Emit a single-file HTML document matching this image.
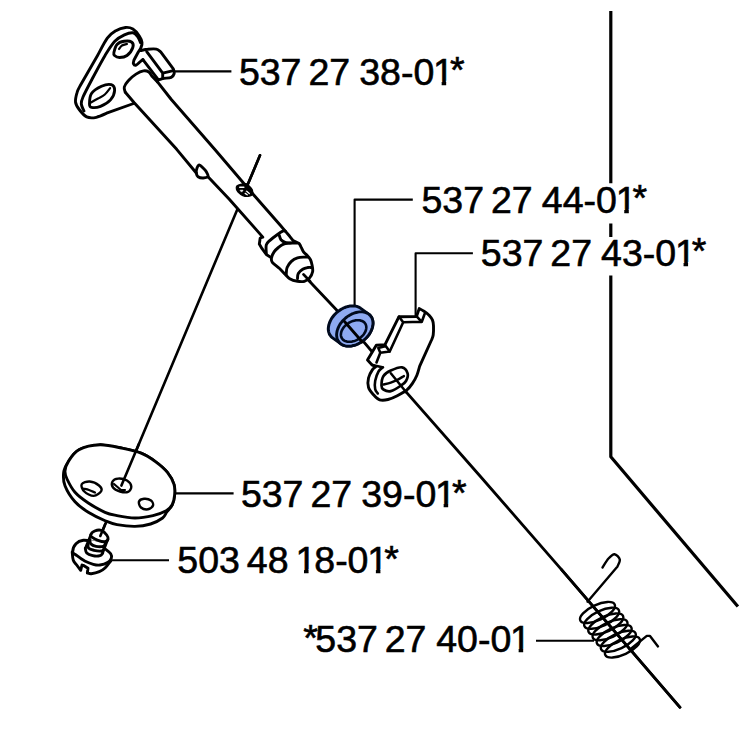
<!DOCTYPE html>
<html><head><meta charset="utf-8">
<style>
html,body{margin:0;padding:0;background:#fff;width:750px;height:750px;overflow:hidden}
.t{position:absolute;font-family:"Liberation Sans",sans-serif;font-size:37.5px;line-height:1;white-space:nowrap;word-spacing:-3.5px;color:#000;-webkit-text-stroke:0.6px #000}
svg{position:absolute;left:0;top:0}
.s{position:relative;top:-1.5px}
.o{display:inline-block;clip-path:polygon(0 0,100% 0,100% 27.3px,13.1px 27.3px,13.1px 100%,8.6px 100%,8.6px 27.3px,0 27.3px);margin-left:-1.2px;margin-right:-4px}
</style></head><body>
<svg width="750" height="750" viewBox="0 0 750 750" fill="none" stroke="#000" stroke-width="2.9" stroke-linecap="round" stroke-linejoin="round">
<path d="M610.8,11 L610.8,183.3 M610.8,223.4 L610.8,237 M610.8,275.6 L610.8,456.8 L737.9,606.5" stroke-width="3.2" stroke-linecap="butt"/>
<g stroke-width="2.1" stroke-linecap="butt">
<path d="M174,71.4 L231.4,71.4" />
<path d="M354.6,305 L354.6,199.6 L412.8,199.6" />
<path d="M415.6,316 L415.6,253.2 L472.9,253.2" />
<path d="M176,493.4 L233.6,493.4" />
<path d="M111.5,560.3 L169,560.3" />
<path d="M536,640.8 L594,640.8" />
</g>
<path d="M304,275.5 L338.5,312 L406.7,392.7 L480,476 L561.3,569.3 L680,707.3" stroke-width="2.8"/>
<path d="M260,155.3 L245.4,190 M237.5,209 L100.5,535.5" stroke-width="2.6"/>
<path d="M133.6,103.5 L108,112.7 C106,113.5 99.8,116.6 96.3,117.3 C92.8,118 89.5,118.2 86.7,116.9 C83.9,115.6 81.1,112 79.2,109.5 C77.3,107 75.8,104.8 75.5,102 C75.2,99.2 76.3,95.1 77.1,92.4 C77.8,89.7 79.5,87.1 80,86 L97.7,55.2 C99.3,52.4 104.3,42.2 107.3,38.1 C110.3,34 112.9,32.5 115.9,30.7 C118.9,28.9 122.7,27.8 125.5,27.5 C128.3,27.2 130.6,27.7 132.9,29.1 C135.2,30.5 137.8,33.8 139.3,36 C140.8,38.2 141.7,40.4 142,42.4 C142.3,44.4 141.5,46.1 140.9,47.7 C140.3,49.3 138.7,51.3 138.3,52 L134,60 C133.9,60.6 133.1,62.8 133.4,63.7 C133.8,64.6 134.9,65.6 136.1,65.2 C137.3,64.8 139.2,62.5 140.4,61.5 C141.6,60.5 142.6,59.8 143,59.5" fill="#fff"/>
<path d="M84,111 C83.5,109.8 81.5,106.3 81.3,104 C81.1,101.7 81,101.6 83,97 C85,92.4 89.8,83.5 93.5,76.5 C97.2,69.5 101.7,61.1 105.2,55.2 C108.8,49.3 111.6,44.7 114.8,41.3 C118,37.9 121.4,36.3 124.4,34.9 C127.4,33.5 130.7,32.5 132.9,32.8 C135.1,33.1 136.3,34.9 137.6,36.5 C138.9,38.1 140,41.5 140.5,42.5" />
<path d="M113.9,52.5 C114.3,50.7 115.3,46.4 117,44.5 C118.7,42.6 121.6,41.7 124,41.3 C126.4,40.9 130,41 131.5,42 C133,43 133.6,45.2 132.8,47.5 C132.1,49.8 129.2,53.8 127,55.5 C124.8,57.2 121.6,57.5 119.5,57.5 C117.4,57.5 115.4,56.3 114.5,55.5 C113.6,54.7 113.5,54.3 113.9,52.5 Z" />
<path d="M119,49 C119.5,48.4 120.7,46.3 122,45.5 C123.3,44.7 126.2,44.2 127,44" stroke-width="2.2"/>
<path d="M89.5,104 C89.5,101.7 89.5,96.5 91.5,93.5 C93.5,90.5 98.2,87.8 101.5,86.3 C104.8,84.8 109,84 111.2,84.7 C113.4,85.4 114.7,88 114.6,90.5 C114.5,93 112.8,97.3 110.5,99.9 C108.2,102.5 103.7,105.1 100.5,106.3 C97.3,107.5 93.3,107.7 91.5,107.3 C89.7,106.9 89.5,106.3 89.5,104 Z" />
<path d="M90.9,102.5 C92.1,101.8 95.7,99.8 98,98.5 C100.3,97.2 102.8,96.2 104.8,94.5 C106.8,92.8 109.2,89.2 110.1,88.1" stroke-width="2.2"/>
<path d="M140.6,50.6 C141.8,50.4 145.1,49.5 147.7,49.3 C150.3,49 154.2,48.7 156.3,49.1 C158.4,49.5 159.8,51.3 160.5,51.7 L173.3,68.8 C173.5,69.6 174.5,72.1 174.2,73.5 C173.8,74.9 173.1,76.5 171.2,77.3 C169.3,78.1 164.8,78.1 162.7,78.6 C160.6,79 159.1,79.8 158.4,80" fill="#fff"/>
<path d="M146.7,51.7 L162.7,73.1 L172.3,70.9 M162.7,73.1 L162.7,78.3 M142.9,59.7 L158.4,79.8" />
<path d="M125.3,92.3 C125.1,91.4 123.8,89 124.3,87 C124.8,85 126.5,82.7 128.5,80.5 C130.4,78.3 133.5,75.7 136,74.1 C138.5,72.5 141.4,71.2 143.5,70.9 C145.6,70.6 147.4,71.1 148.8,72 C150.2,72.9 151.5,75.6 152,76.3 L157.3,81.6" fill="#fff"/>
<path d="M125.3,92.3 L134,102.5 L176.7,149.3 L196.3,173" />
<path d="M208,176.7 L229.3,199.3 L262.8,237.1 L260.2,238 L259.3,244.1 L261.9,248.4 L266.3,254.5 L271.5,257.9" />
<path d="M196.3,173 C196.1,171.6 196.5,169.3 197,168 C197.5,166.7 198.3,165 199.3,165 C200.3,165 201.9,166.9 203,168 C204.1,169.1 205.2,169.9 206,171.3 C206.8,172.7 208.4,175.2 208,176.3 C207.6,177.4 205,177.9 203.3,178 C201.6,178.1 199.2,177.5 198,176.7 C196.8,175.9 196.5,174.4 196.3,173 Z" />
<path d="M157.3,81.6 L171.3,99.5 L215.3,150 L252,193 L280.1,225 L285.3,231.1 L289.7,236.3 L293.1,240.6 L296.6,242.3" />
<path d="M236.8,186 C237.7,185.1 240.5,184.4 242,184 C243.5,183.6 244.8,183.3 246,183.6 C247.2,183.9 248.1,184.9 249.2,186 C250.3,187.1 251.9,188.5 252.4,190 C252.9,191.5 253.1,193.7 252.4,194.8 C251.7,195.9 249.6,196.3 248,196.4 C246.4,196.5 244.5,196.3 242.8,195.6 C241.1,194.9 239.1,193.1 238,192 C236.9,190.9 236.6,190.2 236.4,189.2 C236.2,188.2 235.9,186.9 236.8,186 Z" fill="#000" stroke-width="1.2"/>
<path d="M239.8,187.3 L243.8,187.3" stroke="#fff" stroke-width="1.6"/>
<path d="M240.5,190.3 L243,190.3 L241.8,191.8 Z" fill="#fff" stroke="#fff" stroke-width="0.8"/>
<path d="M245.8,190.6 L249.3,193.6 M245.2,193.4 L247.2,194.8" stroke="#fff" stroke-width="1.3"/>
<path d="M260,155.3 L245.4,190" stroke-width="2.6"/>
<path d="M266.3,253.6 C266.3,252.2 265.7,247.1 266.3,244.9 C266.9,242.7 267.8,242.3 269.7,240.6 C271.6,238.9 275.3,236.1 277.5,234.5 C279.7,232.9 281.4,231.7 282.7,231.1 C284,230.5 284.9,231.1 285.3,231.1" />
<path d="M279.3,235.4 C279.6,236.1 280,238.5 281,239.7 C282,240.8 283,241.7 285.3,242.3 C287.6,242.9 292.7,243 294.9,243.2 C297.1,243.3 297.7,243.2 298.3,243.2" />
<path d="M298.3,243.2 C300.1,243.8 300,245.2 300.9,246.7 C301.8,248.1 302.5,250.5 303.5,251.9 C304.5,253.3 305.8,254 307,255.3 C308.2,256.6 309.6,258 310.5,259.7 C311.4,261.4 311.8,263.7 312.2,265.7 C312.6,267.7 313,269.8 312.6,271.8 C312.2,273.8 311,276.3 309.6,277.9 C308.2,279.5 306.4,280.7 304.4,281.3 C302.4,281.9 299.9,281.7 297.5,281.3 C295.1,280.9 291.7,279.9 289.7,278.7 C287.7,277.5 287,276.1 285.3,274.4 C283.6,272.7 281.5,270.3 279.3,268.3 C277.1,266.3 273.6,264 272.3,262.3 C271,260.6 271.2,259.6 271.5,257.9 C271.8,256.2 273,253.6 274.1,251.9 C275.2,250.2 276.8,248.8 278.4,247.5 C280,246.2 281.7,244.8 283.6,244.1 C285.5,243.4 287.6,243.5 290,243.3 C292.4,243.2 296.5,242.6 298.3,243.2 Z" fill="#fff"/>
<path d="M286.2,274.4 C286.4,273.2 286.2,269.7 287.1,267.5 C288,265.3 289.7,263 291.4,261.4 C293.1,259.8 295.3,258.6 297.5,257.9 C299.7,257.2 302.7,257.2 304.4,257.1 C306.1,257 307.3,257.1 307.9,257.1" />
<path d="M297.5,278.7 C297.6,277.8 297.4,275.1 298.3,273.5 C299.2,271.9 301.1,270.2 302.7,269.2 C304.3,268.2 306.5,267.8 307.9,267.5 C309.3,267.2 310.7,267.5 311.3,267.5" />
<path d="M303.5,274.4 L310,281.3" stroke-width="2.8"/>
<path d="M328.3,328.9 L328.4,327.5 L328.6,326.1 L328.9,324.6 L329.4,323.1 L330,321.6 L330.7,320.1 L331.5,318.6 L332.5,317.2 L333.6,315.8 L334.7,314.5 L336,313.2 L337.3,312 L338.7,310.9 L340.2,309.9 L341.7,309 L343.2,308.2 L344.8,307.5 L346.4,306.9 L348,306.5 L349.6,306.1 L351.1,305.9 L352.6,305.9 L354.1,305.9 L355.5,306.1 L356.8,306.4 L358.1,306.9 L359.3,307.4 L360.4,308.1 L368.7,314.1 L369.6,314.9 L370.5,315.8 L371.2,316.8 L371.9,317.9 L372.3,319.1 L372.7,320.4 L372.9,321.7 L373,323.1 L372.9,324.5 L372.7,325.9 L372.4,327.4 L371.9,328.9 L371.3,330.4 L370.6,331.9 L369.8,333.4 L368.8,334.8 L367.7,336.2 L366.6,337.5 L365.3,338.8 L364,340 L362.6,341.1 L361.1,342.1 L359.6,343 L358.1,343.8 L356.5,344.5 L354.9,345.1 L353.3,345.5 L351.7,345.9 L350.2,346.1 L348.7,346.1 L347.2,346.1 L345.8,345.9 L344.5,345.6 L343.2,345.1 L342,344.6 L340.9,343.9 L332.6,337.9 L331.7,337.1 L330.8,336.2 L330.1,335.2 L329.4,334.1 L329,332.9 L328.6,331.6 L328.4,330.3 Z" fill="#8EAAF2" stroke="#000a1e" stroke-width="3"/>
<path d="M370.5,315.8 L371.2,316.8 L371.9,317.9 L372.3,319.1 L372.7,320.4 L372.9,321.7 L373,323.1 L372.9,324.5 L372.7,325.9 L372.4,327.4 L371.9,328.9 L371.3,330.4 L370.6,331.9 L369.8,333.4 L368.8,334.8 L367.7,336.2 L366.6,337.5 L365.3,338.8 L364,340 L362.6,341.1 L361.1,342.1 L359.6,343 L358.1,343.8 L356.5,344.5 L354.9,345.1 L353.3,345.5 L351.7,345.9 L350.2,346.1 L348.7,346.1 L347.2,346.1 L345.8,345.9 L344.5,345.6 L343.2,345.1 L342,344.6 L340.9,343.9 L340,343.1 L339.1,342.2 L338.4,341.2 L337.7,340.1 L337.3,338.9 L336.9,337.6 L336.7,336.3 L336.6,334.9 L336.7,333.5 L336.9,332.1 L337.2,330.6 L337.7,329.1 L338.3,327.6 L339,326.1 L339.8,324.6 L340.8,323.2 L341.9,321.8 L343,320.5 L344.3,319.2 L345.6,318 L347,316.9 L348.5,315.9 L350,315 L351.5,314.2 L353.1,313.5 L354.7,312.9 L356.3,312.5 L357.9,312.1 L359.4,311.9 L360.9,311.9 L362.4,311.9 L363.8,312.1 L365.1,312.4 L366.4,312.9 L367.6,313.4 L368.7,314.1 L369.6,314.9 Z" fill="#8EAAF2" stroke="#000a1e" stroke-width="2.9"/>
<path d="M365.3,323.7 L365.7,324.4 L366,325.2 L366.2,326 L366.3,326.9 L366.3,327.7 L366.2,328.7 L366,329.6 L365.8,330.5 L365.4,331.5 L364.9,332.4 L364.4,333.3 L363.8,334.2 L363.1,335.1 L362.3,336 L361.4,336.8 L360.5,337.6 L359.6,338.3 L358.6,339 L357.5,339.6 L356.5,340.1 L355.4,340.6 L354.3,341 L353.2,341.3 L352.1,341.6 L351,341.7 L349.9,341.8 L348.8,341.8 L347.8,341.7 L346.9,341.6 L346,341.3 L345.1,341 L344.3,340.6 L343.6,340.1 L342.9,339.6 L342.4,339 L341.9,338.3 L341.5,337.6 L341.2,336.8 L341,336 L340.9,335.1 L340.9,334.3 L341,333.3 L341.2,332.4 L341.4,331.5 L341.8,330.5 L342.3,329.6 L342.8,328.7 L343.4,327.8 L344.1,326.9 L344.9,326 L345.8,325.2 L346.7,324.4 L347.6,323.7 L348.6,323 L349.7,322.4 L350.7,321.9 L351.8,321.4 L352.9,321 L354,320.7 L355.1,320.4 L356.2,320.3 L357.3,320.2 L358.4,320.2 L359.4,320.3 L360.3,320.4 L361.2,320.7 L362.1,321 L362.9,321.4 L363.6,321.9 L364.3,322.4 L364.8,323 Z" fill="#8EAAF2" stroke="#000a1e" stroke-width="2.6"/>
<path d="M344.5,321.5 L362.3,342" stroke-width="2.8"/>
<path d="M372.1,364.9 L367.5,360 L376.3,345.3 L385,344.7 L399,316.7 L416.5,316.5 L419.2,308.6 C420,309 422.3,310.1 424,311.2 C425.7,312.3 427.9,313.9 429.3,315.4 C430.7,316.9 431.8,318.4 432.5,320.1 C433.2,321.8 433.4,323.2 433.5,325.7 C433.6,328.2 433.5,332.6 433.2,335 C432.9,337.4 431.8,339.2 431.5,340 L419.7,366.1 C419.2,367.6 418.1,372.3 416.9,375.2 C415.7,378.1 414,381.1 412.3,383.6 C410.6,386.1 409.2,388.1 406.7,390.1 C404.2,392.1 400.4,394.1 397.3,395.7 C394.2,397.3 390.9,398.8 388,399.5 C385.1,400.2 382.1,400.6 379.6,399.8 C377.2,399 375.2,396.6 373.3,394.5 C371.4,392.4 369.3,390.1 368.5,387.3 C367.7,384.6 367.8,380.9 368.5,378 C369.2,375.1 371.2,371.5 372.5,369.6 C373.8,367.7 375.4,367 376,366.5 Z" fill="#fff"/>
<path d="M399,316.7 L403.2,322.3 L421.8,321.8 L424.6,314 M417.1,316.8 L421.8,321.8 M403.2,322.3 L389.7,351.5" stroke-width="2.6"/>
<path d="M378.3,348 L385,346.3 M385,344.9 L389.7,351.5 L380.3,352.7 L378.3,348 M380.3,352.7 L376.5,362.5 M372.1,364.9 L382.4,367.3" stroke-width="2.6"/>
<path d="M383,367.3 C382.2,368 379.8,369.2 378.5,371.5 C377.2,373.8 375.8,377.9 375.2,380.8 C374.6,383.8 374.8,387.1 375.2,389.2 C375.6,391.3 377.4,392.8 377.8,393.5" stroke-width="2.6"/>
<path d="M381.5,385.5 C381.5,383.2 381.9,378.5 383.5,376 C385.1,373.5 387.7,371.9 390.8,370.5 C393.9,369.1 399.2,366.8 402,367.3 C404.8,367.8 406.9,371 407.6,373.3 C408.3,375.6 407.1,379 406,381 C404.9,383 403.6,383.8 401.1,385.5 C398.6,387.2 393.8,390.4 390.8,391.1 C387.9,391.8 384.9,390.4 383.4,389.5 C381.8,388.6 381.5,387.8 381.5,385.5 Z" fill="#fff" stroke-width="2.7"/>
<path d="M383.3,384.5 C384.6,384.2 388.5,383.5 390.8,382.7 C393.1,381.9 395.1,381 397.3,379.9 C399.5,378.8 402.8,376.7 403.9,376.1" stroke-width="2.4"/>
<path d="M390.8,373.3 L406.7,392.7" stroke-width="2.5"/>
<path d="M100,444.8 C103.8,445.4 116.2,447 123,448.4 C129.8,449.8 135.6,451 141,453.2 C146.4,455.4 151,458.4 155.4,461.6 C159.8,464.8 164.3,468.6 167.4,472.4 C170.5,476.2 172.8,480.6 174,484.4 C175.2,488.2 174.9,491.8 174.6,495.2 C174.3,498.6 173.5,502 172.2,504.8 C170.9,507.6 168.4,509.8 166.8,512 C165.2,514.2 165.3,516 162.6,518 C159.9,520 155.2,522.6 150.6,524 C146,525.4 140.6,526.3 135,526.4 C129.4,526.5 121.9,525.5 117,524.6 C112.1,523.7 110.5,523 105.7,521 C100.9,519 93.4,515.5 88.3,512.3 C83.2,509.1 78.9,506.1 75,501.7 C71.1,497.3 66.9,490.6 65,485.7 C63.1,480.8 63.2,476.3 63.7,472.3 C64.2,468.3 65.8,465.5 68.3,461.7 C70.8,457.9 73.7,452.5 79,449.7 C84.3,446.9 96.5,445.6 100,444.8 Z" fill="#fff"/>
<path d="M100,444.8 C107.3,444.6 116.2,447 123,448.4 C129.8,449.8 135.6,451 141,453.2 C146.4,455.4 151,458.4 155.4,461.6 C159.8,464.8 164.3,468.6 167.4,472.4 C170.5,476.2 172.8,480.6 174,484.4 C175.2,488.2 174.9,491.8 174.6,495.2 C174.3,498.6 173.6,502.2 172.2,504.8 C170.8,507.4 169.4,509 166.2,510.8 C163,512.6 158.2,514.4 153,515.6 C147.8,516.8 141,518 135,518 C129,518 122,516.6 117,515.6 C112,514.6 109.8,514.4 105,512.3 C100.2,510.2 93.3,506.3 88.3,503 C83.3,499.7 78.5,496.3 75,492.3 C71.5,488.3 68.7,482.6 67,479 C65.3,475.4 64.8,473.9 65,471 C65.2,468.1 66,465.2 68.3,461.7 C70.6,458.1 73.7,452.5 79,449.7 C84.3,446.9 92.7,445 100,444.8 Z" fill="#fff"/>
<path d="M81.7,484.3 C82.6,482.6 86.8,481.3 89.7,481.5 C92.6,481.7 97.1,483.9 99,485.5 C100.9,487.1 102.2,489.3 101.3,491 C100.4,492.7 96.5,495.8 93.7,495.9 C90.9,496 86.3,493.4 84.3,491.5 C82.3,489.6 80.8,486 81.7,484.3 Z" stroke-width="2.4"/>
<path d="M83,488.5 C84,488.8 87,489.3 89,490 C91,490.7 94,492.1 95,492.5" stroke-width="2.2"/>
<path d="M112.5,481.5 C113.3,480 115.6,478.8 118,478.6 C120.4,478.4 124.8,479.2 127,480.5 C129.2,481.8 131.1,484.6 131.3,486.5 C131.5,488.4 129.9,491.1 128,491.9 C126.1,492.7 122.5,492.2 120,491.5 C117.5,490.8 114.2,489.2 113,487.5 C111.8,485.8 111.7,483 112.5,481.5 Z" stroke-width="2.4"/>
<path d="M139,501.5 C139.5,500.1 142,499 144,498.8 C146,498.6 149.5,499.4 151,500.5 C152.5,501.6 153.5,504 153,505.5 C152.5,507 150,509 148,509.3 C146,509.6 142.5,508.8 141,507.5 C139.5,506.2 138.5,502.9 139,501.5 Z" stroke-width="2.4"/>
<path d="M138.9,444 L121.4,485.6" stroke-width="2.6"/>
<path d="M114,484 L121,490 L125,490" stroke-width="2.2"/>
<path d="M72.2,552 C72.4,553.4 72.5,558.1 73.3,560.3 C74,562.5 75.5,563.3 76.7,565 C77.9,566.7 80,569.4 80.7,570.3 L82,565 L84,565.7 L88,568.3 L87.3,573 C88,573.1 89.3,573.9 91.3,573.7 C93.3,573.5 97,572.7 99.3,571.7 C101.6,570.7 103.4,569.5 105.3,567.7 C107.2,565.9 109.8,562.1 110.7,561" fill="#fff"/>
<path d="M72.7,551.7 C72.7,549.8 74.2,545.6 76,543.7 C77.8,541.8 80.6,540.7 83.3,540.3 C86,539.9 89.2,540.8 92,541.5 C94.8,542.2 97.8,543.2 100,544.5 C102.2,545.8 103.5,547.5 105.3,549 C107.1,550.5 109.7,552.2 110.7,553.7 C111.7,555.2 111.8,556.9 111.3,558.3 C110.8,559.7 109.9,561.2 108,562.3 C106.1,563.4 102.5,564.7 100,565 C97.5,565.3 95.8,565 93.3,564.3 C90.8,563.6 87.6,562.5 84.7,561 C81.8,559.5 78,556.5 76,555 C74,553.5 72.7,553.6 72.7,551.7 Z" fill="#fff"/>
<path d="M85.3,548.3 C85.5,549.1 85.5,551.8 86.7,553 C87.9,554.2 90.5,555.2 92.7,555.7 C94.9,556.2 98.3,556.2 100,555.7 C101.7,555.2 102.2,553.5 102.7,553" fill="#fff"/>
<path d="M88,544.3 C88.1,545 87.7,547.3 88.7,548.3 C89.7,549.3 91.9,549.8 94,550.3 C96.1,550.8 99.6,551.2 101.3,551 C103,550.8 103.5,549.3 104,549" fill="#fff"/>
<path d="M90,539.7 C90.1,540.4 89.7,542.6 90.7,543.7 C91.7,544.8 93.9,545.9 96,546.3 C98.1,546.7 101.8,546.7 103.3,546.3 C104.8,545.9 105,544.1 105.3,543.7" fill="#fff"/>
<path d="M85.3,548.3 L90.7,535 M102.7,553 L108,539" stroke-width="2.5"/>
<path d="M90.7,535 C91,533.9 92.9,531.8 94.7,531 C96.5,530.2 99.3,529.6 101.3,530.3 C103.3,531 105.6,533.5 106.7,535 C107.8,536.5 108.3,537.9 108,539 C107.7,540.1 106.4,541.5 104.7,541.7 C103,541.9 100,541 98,540.3 C96,539.6 93.9,538.6 92.7,537.7 C91.5,536.8 90.4,536.1 90.7,535 Z" fill="#fff"/>
<path d="M105.3,524 L100.3,536" stroke-width="2.6"/>
<g stroke-width="2.4">
<ellipse cx="597.50" cy="612.50" rx="19" ry="7.6" transform="rotate(-25 597.50 612.50)"/>
<ellipse cx="601.67" cy="618.25" rx="19" ry="7.6" transform="rotate(-25 601.67 618.25)"/>
<ellipse cx="605.83" cy="624.00" rx="19" ry="7.6" transform="rotate(-25 605.83 624.00)"/>
<ellipse cx="610.00" cy="629.75" rx="19" ry="7.6" transform="rotate(-25 610.00 629.75)"/>
<ellipse cx="614.17" cy="635.50" rx="19" ry="7.6" transform="rotate(-25 614.17 635.50)"/>
<ellipse cx="618.33" cy="641.25" rx="19" ry="7.6" transform="rotate(-25 618.33 641.25)"/>
<ellipse cx="622.50" cy="647.00" rx="19" ry="7.6" transform="rotate(-25 622.50 647.00)"/>
<path d="M587.5,601.7 L617.5,566.5 C617.9,565.3 620.3,561.5 619.8,559.5 C619.3,557.5 616.4,554.4 614.5,554.2 C612.6,554 610.5,556.3 608.5,558.5 C606.5,560.7 603.5,566 602.5,567.5" />
<path d="M629.7,649.7 L646.8,635.9 L650,635.9 L658,646.4" />
</g>
<path d="M561.3,569.3 L680,707.3" stroke-width="2.8"/>
</svg>
<div class="t" style="left:238.9px;top:53.5px">537 27 <span style="margin-left:2.2px">38-0</span><span class="o">1</span><span class="s">*</span></div>
<div class="t" style="left:421.5px;top:181.7px">537 27 <span style="margin-left:2.2px">44-0</span><span class="o">1</span><span class="s">*</span></div>
<div class="t" style="left:480.8px;top:234.8px">537 27 <span style="margin-left:2.2px">43-0</span><span class="o">1</span><span class="s">*</span></div>
<div class="t" style="left:240.9px;top:476.4px">537 27 <span style="margin-left:2.2px">39-0</span><span class="o">1</span><span class="s">*</span></div>
<div class="t" style="left:177.3px;top:542px">503 48 <span class="o" style="margin-left:0;margin-right:-2px">1</span>8-0<span class="o">1</span><span class="s">*</span></div>
<div class="t" style="left:303.2px;top:621.4px"><span class="s" style="margin-right:-2.5px">*</span>537 27 <span style="margin-left:2.8px">40-0</span><span class="o">1</span></div>
</body></html>
